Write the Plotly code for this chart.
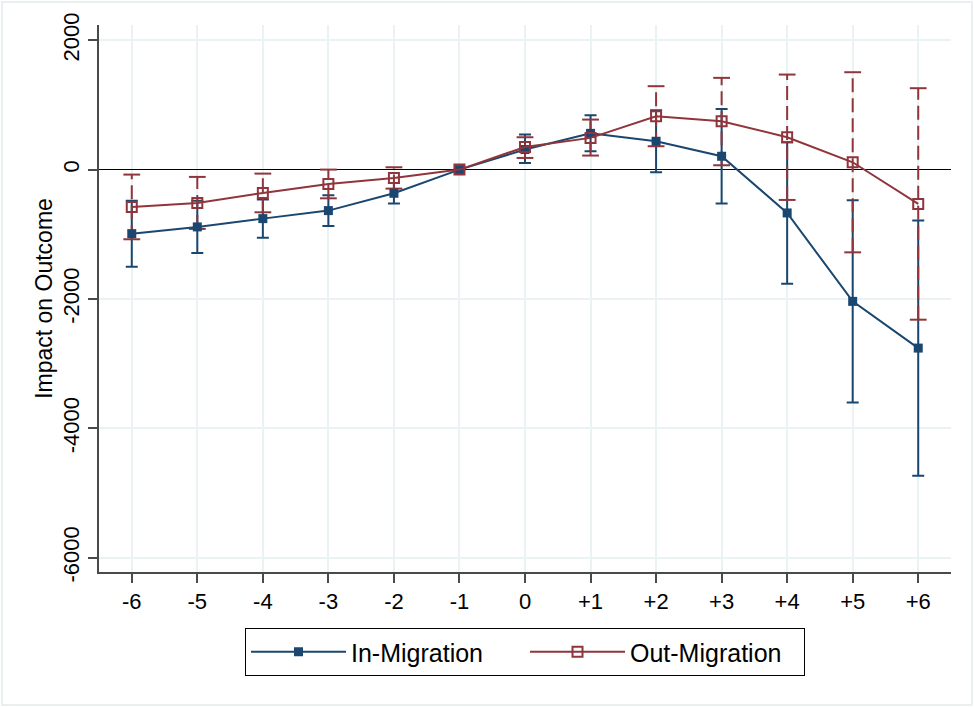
import plotly.graph_objects as go

# ---- data ----
periods = [-6, -5, -4, -3, -2, -1, 0, 1, 2, 3, 4, 5, 6]
tick_labels = ["-6", "-5", "-4", "-3", "-2", "-1", "0", "+1", "+2", "+3", "+4", "+5", "+6"]

in_est = [-990, -886, -758, -634, -366, 0, 310, 560, 438, 206, -670, -2037, -2759]
in_lo = [-1500, -1289, -1052, -871, -526, None, 103, 283, -41, -526, -1763, -3599, -4733]
in_hi = [-480, -483, -464, -397, -206, None, 541, 840, 918, 938, 423, -475, -785]

out_est = [-577, -515, -361, -222, -129, 0, 350, 490, 825, 748, 500, 113, -531]
out_lo = [-1077, -917, -660, -444, -294, None, 180, 217, 361, 67, -469, -1279, -2320]
out_hi = [-77, -113, -62, 0, 36, None, 500, 773, 1289, 1418, 1469, 1505, 1258]

y_ticks = [2000, 0, -2000, -4000, -6000]
y_tick_labels = ["2000", "0", "-2000", "-4000", "-6000"]

# ---- styles ----
NAVY = "#1a476f"
MAROON = "#90353b"
GRID = "#eaf2f3"
AXIS = "#4a4a4a"
FONT = "Liberation Sans, Arial, sans-serif"

W, H = 974, 707
ML, MR, MT, MB = 99, 23, 25, 135

fig = go.Figure()

# blue (In-Migration) confidence intervals: solid with caps
err_plus = [None if h is None else h - e for h, e in zip(in_hi, in_est)]
err_minus = [None if l is None else e - l for l, e in zip(in_lo, in_est)]
fig.add_trace(go.Scatter(
    x=periods, y=in_est, mode="markers",
    marker=dict(size=0.1, opacity=0),
    error_y=dict(type="data", symmetric=False, array=err_plus, arrayminus=err_minus,
                 color=NAVY, thickness=2, width=6),
    showlegend=False, hoverinfo="skip"))

# red (Out-Migration) confidence intervals: dashed with caps
seg_x, seg_y = [], []
for x, lo, hi in zip(periods, out_lo, out_hi):
    if lo is None or hi is None:
        continue
    seg_x += [x, x, None]
    seg_y += [lo, hi, None]
fig.add_trace(go.Scatter(
    x=seg_x, y=seg_y, mode="lines",
    line=dict(color=MAROON, width=2, dash="14px,6px"),
    showlegend=False, hoverinfo="skip"))
cap_x, cap_y = [], []
for x, lo, hi in zip(periods, out_lo, out_hi):
    if lo is None or hi is None:
        continue
    cap_x += [x, x]
    cap_y += [lo, hi]
fig.add_trace(go.Scatter(
    x=cap_x, y=cap_y, mode="markers",
    marker=dict(symbol="line-ew", size=12, line=dict(color=MAROON, width=2)),
    showlegend=False, hoverinfo="skip"))

# point estimates
fig.add_trace(go.Scatter(
    x=periods, y=in_est, mode="lines+markers", name="In-Migration",
    line=dict(color=NAVY, width=2),
    marker=dict(symbol="square", size=9, color=NAVY)))
fig.add_trace(go.Scatter(
    x=periods, y=out_est, mode="lines+markers", name="Out-Migration",
    line=dict(color=MAROON, width=2),
    marker=dict(symbol="square-open", size=10, color=MAROON, line=dict(color=MAROON, width=2))))

pw = W - ML - MR
ph = H - MT - MB


def px_to_paper_x(px):
    return (px - ML) / pw


def px_to_paper_y(py):
    return (H - MB - py) / ph


fig.update_layout(
    width=W, height=H,
    margin=dict(l=ML, r=MR, t=MT, b=MB, pad=0),
    paper_bgcolor="white", plot_bgcolor="white",
    font=dict(family=FONT, color="black", size=22),
    xaxis=dict(
        range=[-6.5, 6.5], tickvals=periods, ticktext=tick_labels,
        showgrid=True, gridcolor=GRID, gridwidth=1.5,
        showline=True, linecolor=AXIS, linewidth=2,
        ticks="outside", ticklen=9, tickwidth=1.5, tickcolor=AXIS,
        tickfont=dict(size=22), zeroline=False, automargin=False),
    yaxis=dict(
        range=[-6220, 2235], tickvals=y_ticks, ticktext=y_tick_labels,
        tickangle=-90,
        showgrid=True, gridcolor=GRID, gridwidth=1.5,
        showline=True, linecolor=AXIS, linewidth=2,
        ticks="outside", ticklen=9, tickwidth=1.5, tickcolor=AXIS,
        tickfont=dict(size=22),
        zeroline=True, zerolinecolor="black", zerolinewidth=1.3,
        automargin=False,
        title=dict(text="Impact on Outcome", font=dict(size=23), standoff=0)),
    legend=dict(
        orientation="h", x=0.5, xanchor="center",
        y=px_to_paper_y(628), yanchor="top",
        bordercolor="black", borderwidth=1,
        font=dict(size=25), itemwidth=95,
        entrywidth=169, entrywidthmode="pixels"),
    shapes=[dict(type="rect", xref="paper", yref="paper",
                 x0=px_to_paper_x(2), x1=px_to_paper_x(972),
                 y0=px_to_paper_y(705), y1=px_to_paper_y(2),
                 line=dict(color="#e3ecee", width=1.5), layer="below")],
)

fig.write_html("out.html", config={"displayModeBar": False},
               post_script="document.body.style.margin='0';")
